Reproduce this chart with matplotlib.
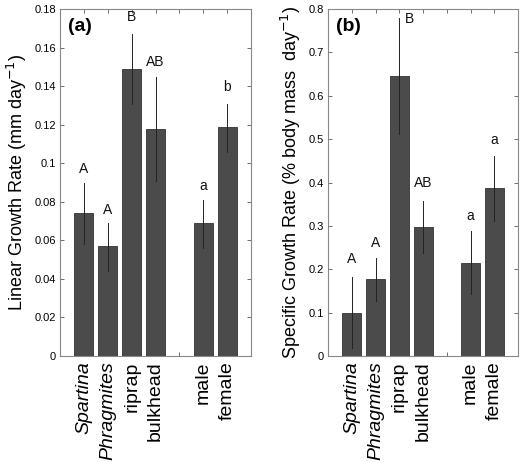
import matplotlib.pyplot as plt

plt.rcParams["font.family"] = ["Liberation Sans", "DejaVu Sans"]

# ==========================================
# DATA
# ==========================================
CATEGORIES = ["Spartina", "Phragmites", "riprap", "bulkhead", "", "male", "female"]
ITALIC = ["Spartina", "Phragmites"]
POSITIONS = [1, 2, 3, 4, 6, 7]

LINEAR_MEAN = [0.074, 0.057, 0.149, 0.118, 0.069, 0.119]
LINEAR_LOW = [0.058, 0.044, 0.131, 0.091, 0.056, 0.106]
LINEAR_HIGH = [0.090, 0.069, 0.167, 0.145, 0.081, 0.131]
LINEAR_LETTERS = ["A", "A", "B", "AB", "a", "b"]
LINEAR_LETTER_Y = [0.097, 0.0757, 0.176, 0.1525, 0.088, 0.1395]

SPECIFIC_MEAN = [0.100, 0.177, 0.646, 0.298, 0.215, 0.387]
SPECIFIC_LOW = [0.018, 0.128, 0.512, 0.237, 0.143, 0.312]
SPECIFIC_HIGH = [0.183, 0.225, 0.780, 0.358, 0.288, 0.462]
SPECIFIC_LETTERS = ["A", "A", "B", "AB", "a", "a"]
SPECIFIC_LETTER_Y = [0.224, 0.26, 0.777, 0.398, 0.323, 0.498]
SPECIFIC_LETTER_DX = [0, 0, 0.42, 0, 0, 0]

BAR_COLOR = "#4b4b4b"
EDGE_COLOR = "#333333"


def draw_panel(ax, means, low, high, letters, letter_y, letter_dx,
               ymax, yticks, ytick_labels, ylabel, tag):
    ax.set_axisbelow(True)
    ax.bar(POSITIONS, means, width=0.8, color=BAR_COLOR,
           edgecolor=EDGE_COLOR, linewidth=0.6, zorder=2)
    for x, m, lo, hi in zip(POSITIONS, means, low, high):
        ax.plot([x, x], [lo, hi], color="#222222", linewidth=0.7, zorder=3)
    for x, dx, y, t in zip(POSITIONS, letter_dx, letter_y, letters):
        ax.text(x + dx, y, t, ha="center", va="center", fontsize=10,
                color="#111111")

    ax.set_xlim(0, 8)
    ax.set_ylim(0, ymax)
    ax.set_xticks(range(1, 8))
    ax.set_xticklabels(CATEGORIES, rotation=90, fontsize=14)
    for lab in ax.get_xticklabels():
        if lab.get_text() in ITALIC:
            lab.set_fontstyle("italic")
    ax.set_yticks(yticks)
    ax.set_yticklabels(ytick_labels, fontsize=8)
    ax.tick_params(direction="in", top=True, right=True, length=3,
                   width=0.6, color="#555555", pad=3)
    ax.tick_params(axis="x", pad=4)
    for s in ax.spines.values():
        s.set_color("#888888")
        s.set_linewidth(0.8)
    ax.set_ylabel(ylabel, fontsize=13, labelpad=4)
    ax.text(0.04, 0.975, tag, transform=ax.transAxes, ha="left", va="top",
            fontsize=14, fontweight="bold")


fig = plt.figure(figsize=(5.2, 4.62), dpi=100)
ax1 = fig.add_axes([0.1154, 0.2294, 0.3673, 0.751])
ax2 = fig.add_axes([0.6308, 0.2294, 0.3654, 0.751])

draw_panel(
    ax1, LINEAR_MEAN, LINEAR_LOW, LINEAR_HIGH, LINEAR_LETTERS,
    LINEAR_LETTER_Y, [0] * 6, 0.18,
    [0, 0.02, 0.04, 0.06, 0.08, 0.1, 0.12, 0.14, 0.16, 0.18],
    ["0", "0.02", "0.04", "0.06", "0.08", "0.1", "0.12", "0.14", "0.16", "0.18"],
    "Linear Growth Rate (mm day$^{-1}$)", "(a)",
)
draw_panel(
    ax2, SPECIFIC_MEAN, SPECIFIC_LOW, SPECIFIC_HIGH, SPECIFIC_LETTERS,
    SPECIFIC_LETTER_Y, SPECIFIC_LETTER_DX, 0.8,
    [0, 0.1, 0.2, 0.3, 0.4, 0.5, 0.6, 0.7, 0.8],
    ["0", "0.1", "0.2", "0.3", "0.4", "0.5", "0.6", "0.7", "0.8"],
    "Specific Growth Rate (% body mass  day$^{-1}$)", "(b)",
)

fig.savefig("out.png", dpi=100)
